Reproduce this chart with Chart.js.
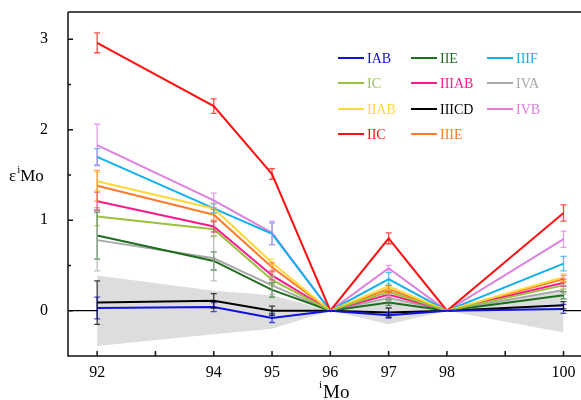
<!DOCTYPE html>
<html>
<head>
<meta charset="utf-8">
<script src="https://cdn.jsdelivr.net/npm/chart.js@4"></script>
<style>
  html, body { margin: 0; padding: 0; background: #fff; }
  #wrap { width: 581px; height: 400px; }
</style>
</head>
<body>
<div id="wrap"><canvas id="moChart" width="581" height="400"></canvas></div>
<script>
// isotopes and axis tick labels (blank = unlabelled tick)
const isotopes = ["92", "94", "95", "96", "97", "98", "100"];
const xTickLabels = ["92", "", "94", "95", "96", "97", "98", "", "100"];
const yTickLabels = [0, 1, 2, 3];

// epsilon iMo per iron meteorite group
const groupNames = ["IAB", "IC", "IIAB", "IIC", "IIE", "IIIAB", "IIICD", "IIIE", "IIIF", "IVA", "IVB"];
const IAB   = [0.03, 0.04, -0.08, 0, -0.05, 0, 0.02];
const IC    = [1.04, 0.90, 0.34, 0, 0.21, 0, 0.28];
const IIAB  = [1.43, 1.13, 0.53, 0, 0.27, 0, 0.37];
const IIC   = [2.96, 2.26, 1.51, 0, 0.80, 0, 1.08];
const IIE   = [0.83, 0.55, 0.23, 0, 0.09, 0, 0.17];
const IIIAB = [1.21, 0.93, 0.39, 0, 0.18, 0, 0.31];
const IIICD = [0.09, 0.11, 0.00, 0, -0.02, 0, 0.06];
const IIIE  = [1.38, 1.06, 0.48, 0, 0.24, 0, 0.35];
const IIIF  = [1.70, 1.13, 0.85, 0, 0.35, 0, 0.52];
const IVA   = [0.78, 0.58, 0.28, 0, 0.14, 0, 0.23];
const IVB   = [1.83, 1.22, 0.86, 0, 0.47, 0, 0.79];

// error bars (half widths)
const errIAB   = [0.12, 0.05, 0.05, 0, 0.03, 0, 0.05];
const errIC    = [0.10, 0.08, 0.05, 0, 0.03, 0, 0.04];
const errIIAB  = [0.10, 0.06, 0.04, 0, 0.03, 0, 0.04];
const errIIC   = [0.11, 0.08, 0.06, 0, 0.06, 0, 0.09];
const errIIE   = [0.26, 0.10, 0.08, 0, 0.03, 0, 0.04];
const errIIIAB = [0.10, 0.06, 0.05, 0, 0.03, 0, 0.04];
const errIIICD = [0.24, 0.08, 0.05, 0, 0.05, 0, 0.04];
const errIIIE  = [0.17, 0.06, 0.05, 0, 0.04, 0, 0.04];
const errIIIF  = [0.09, 0.05, 0.12, 0, 0.07, 0, 0.08];
const errIVA   = [0.34, 0.25, 0.10, 0, 0.04, 0, 0.05];
const errIVB   = [0.23, 0.08, 0.13, 0, 0.03, 0, 0.09];

// grey uncertainty band
const bandUpper = [0.39, 0.22, 0.17, 0, 0.12, 0, 0.22];
const bandLower = [-0.39, -0.26, -0.20, 0, -0.15, 0, -0.24];

const values = [IAB, IC, IIAB, IIC, IIE, IIIAB, IIICD, IIIE, IIIF, IVA, IVB];
const errors = [errIAB, errIC, errIIAB, errIIC, errIIE, errIIIAB, errIIICD, errIIIE, errIIIF, errIVA, errIVB];
const colors = ["#1010e0", "#9ac33a", "#ffd83a", "#ff1010", "#1c6e1c", "#ff1a8c",
                "#000000", "#ff7a2a", "#10b0ef", "#a8a8a8", "#dd80dd"];

const FONT = "'Liberation Serif', 'Times New Roman', serif";

function pts(arr) {
  return arr.map((v, i) => ({ x: xTickLabels.indexOf(isotopes[i]), y: v }));
}

const datasets = groupNames.map((name, i) => ({
  label: name,
  data: pts(values[i]),
  errs: errors[i],
  borderColor: colors[i],
  backgroundColor: colors[i],
  borderWidth: 2,
  pointRadius: 0,
  fill: false,
  tension: 0
}));
datasets.push({ label: "bandUpper", data: pts(bandUpper), borderWidth: 0, pointRadius: 0, fill: false });
datasets.push({ label: "bandLower", data: pts(bandLower), borderWidth: 0, pointRadius: 0,
                fill: "-1", backgroundColor: "#dcdddc" });

// error bars
const errorBars = {
  id: "errorBars",
  afterDatasetsDraw(chart) {
    const ctx = chart.ctx;
    const ys = chart.scales.y;
    chart.data.datasets.forEach((ds, i) => {
      if (!ds.errs) return;
      const meta = chart.getDatasetMeta(i);
      ctx.save();
      ctx.strokeStyle = ds.borderColor;
      ctx.globalAlpha = 0.75;
      ctx.lineWidth = 1.3;
      ds.data.forEach((p, j) => {
        const e = ds.errs[j];
        if (!e) return;
        const x = meta.data[j].x;
        const top = ys.getPixelForValue(p.y + e);
        const bot = ys.getPixelForValue(p.y - e);
        ctx.beginPath();
        ctx.moveTo(x, top); ctx.lineTo(x, bot);
        ctx.moveTo(x - 3, top); ctx.lineTo(x + 3, top);
        ctx.moveTo(x - 3, bot); ctx.lineTo(x + 3, bot);
        ctx.stroke();
      });
      ctx.restore();
    });
  }
};

// frame, inward ticks, titles, legend
const decorations = {
  id: "decorations",
  afterDraw(chart) {
    const ctx = chart.ctx;
    const a = chart.chartArea;
    const xs = chart.scales.x, ys = chart.scales.y;
    ctx.save();
    ctx.strokeStyle = "#111";
    ctx.lineWidth = 1.5;
    ctx.beginPath();
    ctx.moveTo(a.left, a.top); ctx.lineTo(a.right, a.top);
    ctx.moveTo(a.left, a.top); ctx.lineTo(a.left, a.bottom);
    ctx.lineTo(a.right, a.bottom);
    // y ticks
    yTickLabels.forEach(v => {
      const y = ys.getPixelForValue(v);
      ctx.moveTo(a.left, y); ctx.lineTo(a.left + 5, y);
      if (v + 0.5 < ys.max) {
        const ym = ys.getPixelForValue(v + 0.5);
        ctx.moveTo(a.left, ym); ctx.lineTo(a.left + 3, ym);
      }
    });
    // x ticks
    xTickLabels.forEach((l, i) => {
      const x = xs.getPixelForValue(i);
      ctx.moveTo(x, a.bottom); ctx.lineTo(x, a.bottom - 5);
    });
    ctx.stroke();

    // axis titles
    ctx.fillStyle = "#000";
    ctx.textBaseline = "alphabetic";
    ctx.textAlign = "left";
    ctx.font = "17px " + FONT;
    let x = 9, y = 181;
    ctx.fillText("\u03b5", x, y);
    x += ctx.measureText("\u03b5").width;
    ctx.font = "11px " + FONT;
    ctx.fillText("i", x + 1, y - 8);
    x += ctx.measureText("i").width + 1;
    ctx.font = "17px " + FONT;
    ctx.fillText("Mo", x, y);

    ctx.font = "11px " + FONT;
    const xt = 319;
    ctx.fillText("i", xt, 388);
    ctx.font = "19px " + FONT;
    ctx.fillText("Mo", xt + 4, 398);

    // legend, column-major, 4 rows
    ctx.font = "14px " + FONT;
    ctx.textBaseline = "middle";
    const colX = [338, 411, 487], rowY = [58, 83, 109, 134];
    groupNames.forEach((name, i) => {
      const cx = colX[Math.floor(i / 4)], cy = rowY[i % 4];
      ctx.strokeStyle = colors[i];
      ctx.lineWidth = 2;
      ctx.beginPath();
      ctx.moveTo(cx, cy); ctx.lineTo(cx + 26, cy);
      ctx.stroke();
      ctx.fillStyle = colors[i];
      ctx.fillText(name, cx + 29, cy + 1);
    });
    ctx.restore();
  }
};

new Chart(document.getElementById("moChart").getContext("2d"), {
  type: "line",
  data: { datasets },
  options: {
    responsive: false,
    animation: false,
    layout: { autoPadding: false, padding: { top: 12, right: 0, left: 0, bottom: 0 } },
    plugins: { legend: { display: false }, tooltip: { enabled: false } },
    scales: {
      x: {
        type: "linear",
        min: -0.5,
        max: 8.3,
        afterBuildTicks: s => { s.ticks = xTickLabels.map((_, i) => ({ value: i })); },
        afterFit: s => { s.height = 44; s.paddingLeft = 0; s.paddingRight = 0; },
        grid: { display: false, drawTicks: false },
        border: { display: false },
        ticks: {
          padding: 7,
          color: "#000",
          font: { family: FONT, size: 16 },
          maxRotation: 0,
          autoSkip: false,
          callback: v => xTickLabels[v] || ""
        }
      },
      y: {
        min: -0.5,
        max: 3.3,
        afterBuildTicks: s => { s.ticks = yTickLabels.map(v => ({ value: v })); },
        afterFit: s => { s.width = 68; s.paddingTop = 0; s.paddingBottom = 0; },
        grid: {
          drawTicks: false,
          color: c => (c.tick && c.tick.value === 0 ? "#000" : "rgba(0,0,0,0)"),
          lineWidth: 1.3
        },
        border: { display: false },
        ticks: {
          padding: 20,
          color: "#000",
          font: { family: FONT, size: 16 },
          callback: v => String(v)
        }
      }
    }
  },
  plugins: [errorBars, decorations]
});
</script>
</body>
</html>
